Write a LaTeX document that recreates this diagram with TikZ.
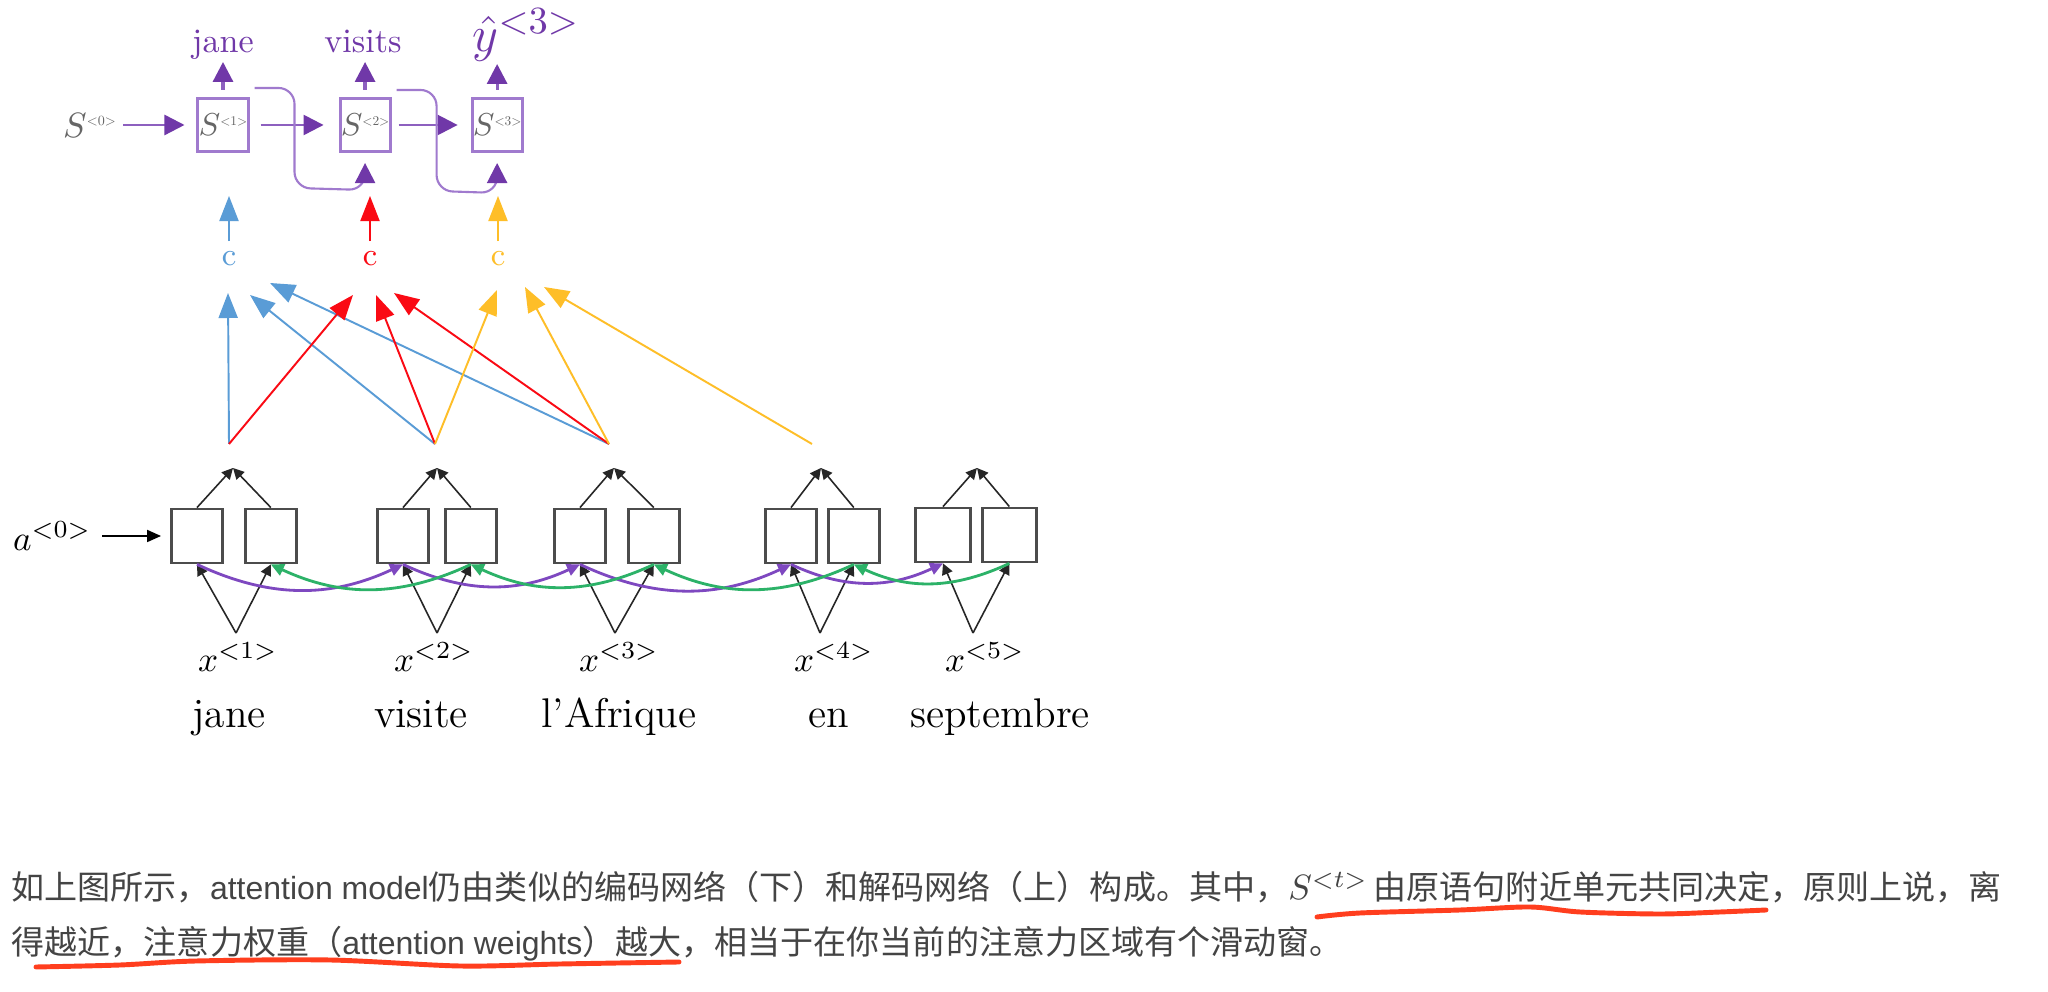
\documentclass[tikz,border=0pt]{standalone}
\usepackage{fontspec}
\usepackage{graphicx}
\usepackage{tikz}
\usetikzlibrary{positioning,arrows.meta}
\newfontfamily\cjk{Noto Sans CJK SC}
\newfontfamily\latinfont{Liberation Sans}
\definecolor{decpurple}{RGB}{112,56,168}
\definecolor{boxpurple}{RGB}{160,122,206}
\definecolor{ctxblue}{RGB}{90,156,214}
\definecolor{ctxred}{RGB}{250,10,20}
\definecolor{ctxyellow}{RGB}{254,190,40}
\definecolor{fwpurple}{RGB}{126,72,192}
\definecolor{bwgreen}{RGB}{44,178,104}
\definecolor{txtgray}{RGB}{68,68,68}
\definecolor{markred}{RGB}{255,62,30}
\newcommand{\decS}[1]{$S$\raisebox{0.75ex}{\scalebox{0.4}{$<$#1$>$}}}

\begin{document}
\begin{tikzpicture}[x=0.01cm, y=-0.01cm,
    every node/.style={inner sep=0pt},
    decbox/.style={draw=boxpurple, line width=0.85pt, minimum width=5mm, minimum height=5.3mm, text=black!60, font=\fontsize{9.5}{9}\selectfont},
    encbox/.style={draw=black!70, line width=0.8pt, minimum width=5.1mm, minimum height=5.4mm},
    declab/.style={anchor=south, text=decpurple, text depth=0.25em, font=\fontsize{9.7}{10}\selectfont},
    decarrow/.style={-{Triangle[length=2mm,width=2mm,color=decpurple]}, draw=boxpurple!60!decpurple, line width=0.9pt},
    feed/.style={decarrow, draw=boxpurple, line width=0.6pt, rounded corners=1.6mm},
    ctxarrow/.style={-{Triangle[length=2.5mm,width=1.9mm]}, line width=0.55pt},
    encarrow/.style={-{Triangle[length=1.1mm,width=1.1mm]}, line width=0.45pt, black!85},
    fwd/.style={-{Triangle[length=1.3mm,width=1.2mm]}, line width=0.8pt, fwpurple},
    bwd/.style={-{Triangle[length=1.3mm,width=1.2mm]}, line width=0.8pt, bwgreen},
    ctxlab/.style={font=\fontsize{9}{9}\selectfont},
    xlab/.style={font=\fontsize{10}{10}\selectfont},
    word/.style={anchor=base, font=\fontsize{11.8}{12}\selectfont},
    para/.style={anchor=base west, text=txtgray, font=\cjk\fontsize{9.4}{10}\selectfont},
    redline/.style={markred, line width=1.4pt, line cap=round}
  ]
  \fill[white] (0,0) rectangle (2048,992);
  \useasboundingbox (0,0) rectangle (2048,992);

  % decoder
  \node[decbox] (dec1) at (223,125) {\decS{1}};
  \node[decbox, right=8.9mm of dec1] (dec2) {\decS{2}};
  \node[decbox, right=7.9mm of dec2] (dec3) {\decS{3}};
  \node[left=8mm of dec1, text=black!60, font=\fontsize{10}{9}\selectfont] (s0) {\decS{0}};

  \node[declab] (out1) at (223,62) {jane};
  \node[declab] (out2) at (363,62) {visits};
  \node[anchor=south west, text=decpurple, font=\fontsize{15}{15}\selectfont] (out3) at (472,62) {$\hat{y}^{<3>}$};

  \draw[decarrow, shorten <=0.7mm] (dec1.north) -- (dec1.north |- out1.south);
  \draw[decarrow, shorten <=0.7mm] (dec2.north) -- (dec2.north |- out2.south);
  \draw[decarrow, shorten <=0.7mm, shorten >=0.2mm] (dec3.north) -- (dec3.north |- out3.south);

  \draw[decarrow, line width=0.7pt, shorten <=0.7mm, shorten >=1.2mm] (s0) -- (dec1);
  \draw[decarrow, line width=0.7pt, shorten <=1.1mm, shorten >=1.5mm] (dec1) -- (dec2);
  \draw[decarrow, line width=0.7pt, shorten <=0.7mm, shorten >=1.3mm] (dec2) -- (dec3);

  \draw[feed, shorten >=1mm] ([shift={(5,-9)}]dec1.north east) -- ++(40,0) -- ++(0,100) -- (dec2.south |- 0,190) -- (dec2.south);
  \draw[feed, shorten >=1mm] ([shift={(5,-7)}]dec2.north east) -- ++(40,0) -- ++(0,101) -- (dec3.south |- 0,193) -- (dec3.south);

  % context vectors
  \node[ctxlab, text=ctxblue] (c1) at (229,259) {c};
  \node[ctxlab, text=ctxred] (c2) at (370,259) {c};
  \node[ctxlab, text=ctxyellow] (c3) at (498,259) {c};
  \coordinate (in1) at (229,196);
  \coordinate (in2) at (370,196);
  \coordinate (in3) at (498,196);
  \draw[ctxarrow, ctxblue, shorten <=1mm] (c1) -- (in1);
  \draw[ctxarrow, ctxred, shorten <=1mm] (c2) -- (in2);
  \draw[ctxarrow, ctxyellow, shorten <=1mm] (c3) -- (in3);

  % attention weights
  \coordinate (o1) at (229,444);
  \coordinate (o2) at (435,444);
  \coordinate (o3) at (609,444);
  \coordinate (o4) at (812,444);
  \coordinate (ab1) at (228,293);
  \coordinate (ab2) at (250,295);
  \coordinate (ab3) at (270,283);
  \coordinate (ar1) at (353,295);
  \coordinate (ar2) at (376,295);
  \coordinate (ar3) at (394,293);
  \coordinate (ay1) at (497,290);
  \coordinate (ay2) at (525,287);
  \coordinate (ay3) at (544,287);
  \draw[ctxarrow, ctxblue] (o1) -- (ab1);
  \draw[ctxarrow, ctxblue] (o2) -- (ab2);
  \draw[ctxarrow, ctxblue] (o3) -- (ab3);
  \draw[ctxarrow, ctxred] (o1) -- (ar1);
  \draw[ctxarrow, ctxred] (o2) -- (ar2);
  \draw[ctxarrow, ctxred] (o3) -- (ar3);
  \draw[ctxarrow, ctxyellow] (o2) -- (ay1);
  \draw[ctxarrow, ctxyellow] (o3) -- (ay2);
  \draw[ctxarrow, ctxyellow] (o4) -- (ay3);

  % encoder
  \node[encbox] (fw1) at (197,536) {};
  \node[encbox, right=2mm of fw1] (bw1) {};
  \node[encbox] (fw2) at (403,536) {};
  \node[encbox, right=1.4mm of fw2] (bw2) {};
  \node[encbox] (fw3) at (580,536) {};
  \node[encbox, right=2mm of fw3] (bw3) {};
  \node[encbox] (fw4) at (791,536) {};
  \node[encbox, right=0.9mm of fw4] (bw4) {};
  \node[encbox, minimum width=5.5mm] (fw5) at (943,535) {};
  \node[encbox, minimum width=5.4mm, right=0.9mm of fw5] (bw5) {};

  \node[left=7.8mm of fw1, font=\fontsize{10}{10}\selectfont] (a0) {$a^{<0>}$};
  \draw[-{Triangle[length=1.4mm,width=1.2mm]}, line width=0.5pt, shorten <=1mm, shorten >=0.9mm] (a0) -- (fw1);

  \coordinate (h1) at (233,468);
  \coordinate (h2) at (437,468);
  \coordinate (h3) at (614,468);
  \coordinate (h4) at (821,468);
  \coordinate (h5) at (977,468);
  \draw[encarrow] (fw1.north) -- (h1);
  \draw[encarrow] (bw1.north) -- (h1);
  \draw[encarrow] (fw2.north) -- (h2);
  \draw[encarrow] (bw2.north) -- (h2);
  \draw[encarrow] (fw3.north) -- (h3);
  \draw[encarrow] (bw3.north) -- (h3);
  \draw[encarrow] (fw4.north) -- (h4);
  \draw[encarrow] (bw4.north) -- (h4);
  \draw[encarrow] (fw5.north) -- (h5);
  \draw[encarrow] (bw5.north) -- (h5);

  \coordinate (b1) at (236,633);
  \coordinate (b2) at (437,633);
  \coordinate (b3) at (615,633);
  \coordinate (b4) at (820,633);
  \coordinate (b5) at (973,633);
  \draw[encarrow] (b1) -- (fw1.south);
  \draw[encarrow] (b1) -- (bw1.south);
  \draw[encarrow] (b2) -- (fw2.south);
  \draw[encarrow] (b2) -- (bw2.south);
  \draw[encarrow] (b3) -- (fw3.south);
  \draw[encarrow] (b3) -- (bw3.south);
  \draw[encarrow] (b4) -- (fw4.south);
  \draw[encarrow] (b4) -- (bw4.south);
  \draw[encarrow] (b5) -- (fw5.south);
  \draw[encarrow] (b5) -- (bw5.south);

  \draw[fwd] (fw1.south) to[out=-25, in=-155] (fw2.south);
  \draw[fwd] (fw2.south) to[out=-25, in=-155] (fw3.south);
  \draw[fwd] (fw3.south) to[out=-25, in=-155] (fw4.south);
  \draw[fwd] (fw4.south) to[out=-25, in=-155] (fw5.south);
  \draw[bwd] (bw5.south) to[out=-155, in=-25] (bw4.south);
  \draw[bwd] (bw4.south) to[out=-155, in=-25] (bw3.south);
  \draw[bwd] (bw3.south) to[out=-155, in=-25] (bw2.south);
  \draw[bwd] (bw2.south) to[out=-155, in=-25] (bw1.south);

  \node[xlab] (x1) at (238,657) {$x^{<1>}$};
  \node[xlab] (x2) at (434,657) {$x^{<2>}$};
  \node[xlab] (x3) at (619,657) {$x^{<3>}$};
  \node[xlab] (x4) at (834,657) {$x^{<4>}$};
  \node[xlab] (x5) at (985,657) {$x^{<5>}$};

  \node[word] (w1) at (229,728) {jane};
  \node[word] (w2) at (421,728) {visite};
  \node[word] (w3) at (619,728) {l'Afrique};
  \node[word] (w4) at (829,728) {en};
  \node[word] (w5) at (1000,728) {septembre};

  % caption text
  \node[para] (para1) at (11,900) {如上图所示，{\latinfont\fontsize{9.1}{10}\selectfont attention model}仍由类似的编码网络（下）和解码网络（上）构成。其中，{\fontsize{10}{10}\selectfont$S^{<t>}$}\,由原语句附近单元共同决定，原则上说，离};
  \node[para] (para2) at (11,955) {得越近，注意力权重（{\latinfont\fontsize{9.1}{10}\selectfont attention weights}）越大，相当于在你当前的注意力区域有个滑动窗。};

  \draw[redline] plot[smooth] coordinates {(1317,917) (1360,913) (1460,910) (1530,907) (1580,912) (1660,914) (1720,912) (1766,910)};
  \draw[redline] plot[smooth] coordinates {(36,967) (120,965) (196,961) (330,960) (460,966) (560,964) (679,962)};
\end{tikzpicture}
\end{document}
